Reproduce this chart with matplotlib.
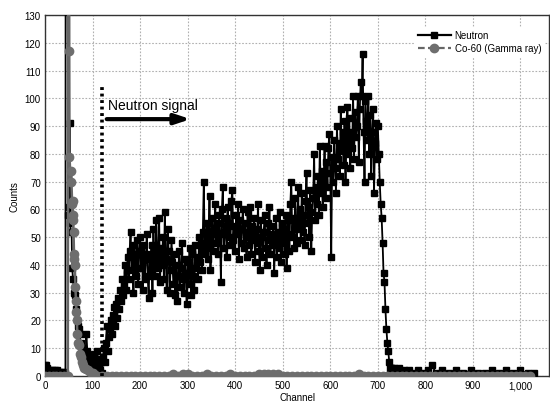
import matplotlib
matplotlib.use("Agg")
import matplotlib.pyplot as plt
from matplotlib.lines import Line2D
from matplotlib.ticker import FuncFormatter

plt.rcParams["font.family"] = ["Liberation Sans", "DejaVu Sans"]

# neutron counts, channels 0-99 (spike region)
neutron_lead_ch = [0, 2, 4, 6, 10, 15, 20, 25, 30, 35, 40, 43, 44, 49, 50, 52, 53, 54, 56, 57,
                   59, 61, 63, 65, 67, 69, 71, 73, 75, 77, 79, 81, 83, 85, 87, 89, 91, 93, 95, 97, 99]
neutron_lead_cnt = [4, 4, 3, 2, 2, 2, 2, 2, 1.5, 1.5, 1.5, 1, 400, 58, 61, 91, 55, 52, 52, 39,
                    35, 30, 29, 24, 20, 18, 17, 15, 12, 10, 9, 8, 7, 6, 15, 9, 6, 5, 7, 4, 5]

# neutron counts, channels 100-738 every 2 channels
neutron_main_cnt = [
    6, 4, 8, 3, 5, 9, 3, 6, 2, 5,
    1, 7, 10, 5, 12, 18, 9, 14, 17, 20,
    15, 22, 19, 25, 18, 26, 21, 28, 24, 31,
    27, 35, 29, 33, 40, 31, 38, 43, 35, 45,
    52, 38, 44, 30, 47, 41, 36, 49, 33, 45,
    50, 39, 44, 31, 47, 35, 42, 51, 36, 28,
    44, 38, 47, 30, 53, 41, 36, 56, 43, 39,
    57, 34, 46, 40, 50, 35, 59, 42, 31, 53,
    45, 30, 38, 49, 41, 33, 44, 29, 40, 27,
    36, 45, 32, 39, 48, 35, 30, 42, 37, 26,
    41, 33, 46, 38, 29, 44, 36, 31, 47, 39,
    43, 35, 50, 41, 48, 38, 52, 70, 44, 46,
    55, 42, 49, 65, 38, 51, 57, 45, 53, 62,
    48, 55, 44, 58, 51, 34, 60, 68, 46, 52,
    57, 43, 61, 50, 55, 47, 63, 67, 49, 54,
    45, 58, 51, 62, 42, 56, 48, 53, 60, 46,
    55, 50, 43, 59, 52, 47, 61, 44, 54, 49,
    57, 41, 53, 48, 62, 45, 38, 56, 50, 43,
    52, 58, 46, 40, 55, 49, 61, 44, 51, 47,
    54, 37, 49, 57, 43, 52, 46, 59, 41, 55,
    48, 53, 44, 58, 39, 51, 56, 45, 62, 70,
    50, 57, 46, 64, 53, 48, 68, 55, 60, 49,
    66, 52, 58, 47, 63, 73, 55, 61, 50, 67,
    45, 59, 64, 80, 56, 68, 62, 72, 58, 83,
    66, 74, 61, 70, 83, 64, 77, 68, 82, 87,
    73, 43, 79, 70, 85, 75, 66, 90, 78, 84,
    72, 96, 81, 88, 76, 92, 70, 86, 97, 80,
    93, 75, 88, 82, 101, 78, 95, 86, 90, 101,
    77, 96, 106, 101, 116, 88, 70, 99, 92, 85,
    101, 80, 94, 72, 88, 96, 66, 84, 91, 78,
    90, 80, 70, 62, 57, 48, 37, 34, 24, 17,
    12, 9, 5, 3, 3, 3, 2, 3, 2, 2,
]
neutron_main_ch = list(range(100, 100 + 2 * len(neutron_main_cnt), 2))

# neutron tail
neutron_tail_ch = [745, 755, 765, 775, 785, 795, 805, 814, 822, 835, 850, 865, 880, 895,
                   910, 925, 940, 955, 970, 985, 1000, 1015, 1028]
neutron_tail_cnt = [3, 2, 2, 1, 2, 1, 2, 4, 1, 2, 1, 2, 1, 2, 1, 1, 2, 1, 2, 1, 2, 1, 1]

# Co-60 gamma ray: peak region
co60_peak_ch = [0, 8, 16, 24, 32, 40, 48, 50, 51, 51.5, 54, 55, 57, 58, 58.5, 59, 60, 61, 62, 62.5,
                64, 65, 66, 67, 68, 70, 72, 74, 76, 78, 80, 83, 86, 90, 95, 100, 105]
co60_peak_cnt = [0, 0, 0, 0, 0, 0, 0, 300, 117, 79, 70, 74, 62, 58, 63, 56, 52, 44, 42, 40,
                 32, 27, 23, 20, 15, 12, 11, 8, 7, 5, 4, 3, 2.5, 2, 1.5, 1, 0.5]
# Co-60 flat part, every 10 channels
co60_flat_cnt = [
    0, 0, 0, 0, 0, 0, 0, 0, 0, 0, 0, 0, 0, 0, 0, 0, 0.7, 0, 0.7, 0.7,
    0, 0, 0, 0.7, 0, 0, 0, 0, 0.7, 0, 0, 0, 0, 0, 0.7, 0.7, 0.7, 0.7, 0.7, 0,
    0, 0, 0, 0, 0, 0, 0, 0, 0, 0, 0, 0, 0, 0, 0, 0.7, 0, 0, 0, 0,
    0, 0, 0, 0, 0, 0, 0, 0, 0, 0, 0, 0, 0, 0, 0, 0, 0, 0, 0, 0,
    0, 0, 0, 0, 0, 0, 0, 0, 0, 0, 0, 0,
]
co60_flat_ch = list(range(110, 110 + 10 * len(co60_flat_cnt), 10))

neutron_ch = neutron_lead_ch + neutron_main_ch + neutron_tail_ch
neutron_cnt = neutron_lead_cnt + neutron_main_cnt + neutron_tail_cnt
co60_ch = co60_peak_ch + co60_flat_ch
co60_cnt = co60_peak_cnt + co60_flat_cnt

fig = plt.figure(figsize=(5.5, 4.02), dpi=100)
ax = fig.add_axes([45 / 550, 25 / 402, 504 / 550, 361 / 402])

ax.plot(neutron_ch, neutron_cnt, color="black", lw=1.3, marker="s", ms=5,
        mfc="black", mec="black", zorder=3)
ax.plot(co60_ch, co60_cnt, color="#666666", lw=1.8, marker="o", ms=6,
        mfc="#6e6e6e", mec="#6e6e6e", zorder=4)

# neutron signal marker
ax.plot([120, 120], [0, 105], color="black", lw=2.6, ls=(0, (0.8, 1.0)), zorder=5)
ax.annotate("", xy=(312, 92.5), xytext=(124, 92.5),
            arrowprops=dict(arrowstyle="-|>,head_length=0.9,head_width=0.3",
                            color="black", lw=3.0), zorder=5)
ax.text(133, 97.5, "Neutron signal", fontsize=10, va="center", ha="left", zorder=5)

ax.set_xlim(0, 1060)
ax.set_ylim(0, 130)
ax.set_xticks(range(0, 1001, 100))
ax.set_yticks(range(0, 131, 10))
ax.xaxis.set_major_formatter(FuncFormatter(lambda v, p: f"{int(v):,}"))
ax.tick_params(length=0, labelsize=7, pad=3)
ax.grid(True, color="#b0b0b0", ls=(0, (1.5, 1.5)), lw=0.8)
ax.set_axisbelow(True)
for s in ax.spines.values():
    s.set_color("#333333")
    s.set_linewidth(1.0)

ax.set_xlabel("Channel", fontsize=7, labelpad=1)
ax.set_ylabel("Counts", fontsize=7, labelpad=4)

handles = [
    Line2D([], [], color="black", lw=1.6, marker="s", ms=5),
    Line2D([], [], color="#666666", lw=1.6, ls=(0, (3, 1.5)), marker="o", ms=6,
           mfc="#6e6e6e", mec="#6e6e6e"),
]
leg = ax.legend(handles, ["Neutron", "Co-60 (Gamma ray)"], loc="upper right",
                bbox_to_anchor=(1.0, 0.98), fontsize=7, frameon=True,
                handlelength=3.4, borderpad=0.3, labelspacing=0.35, handletextpad=0.4)
leg.get_frame().set_edgecolor("white")
leg.get_frame().set_facecolor("white")
leg.get_frame().set_alpha(1.0)

fig.savefig("out.png", dpi=100)
